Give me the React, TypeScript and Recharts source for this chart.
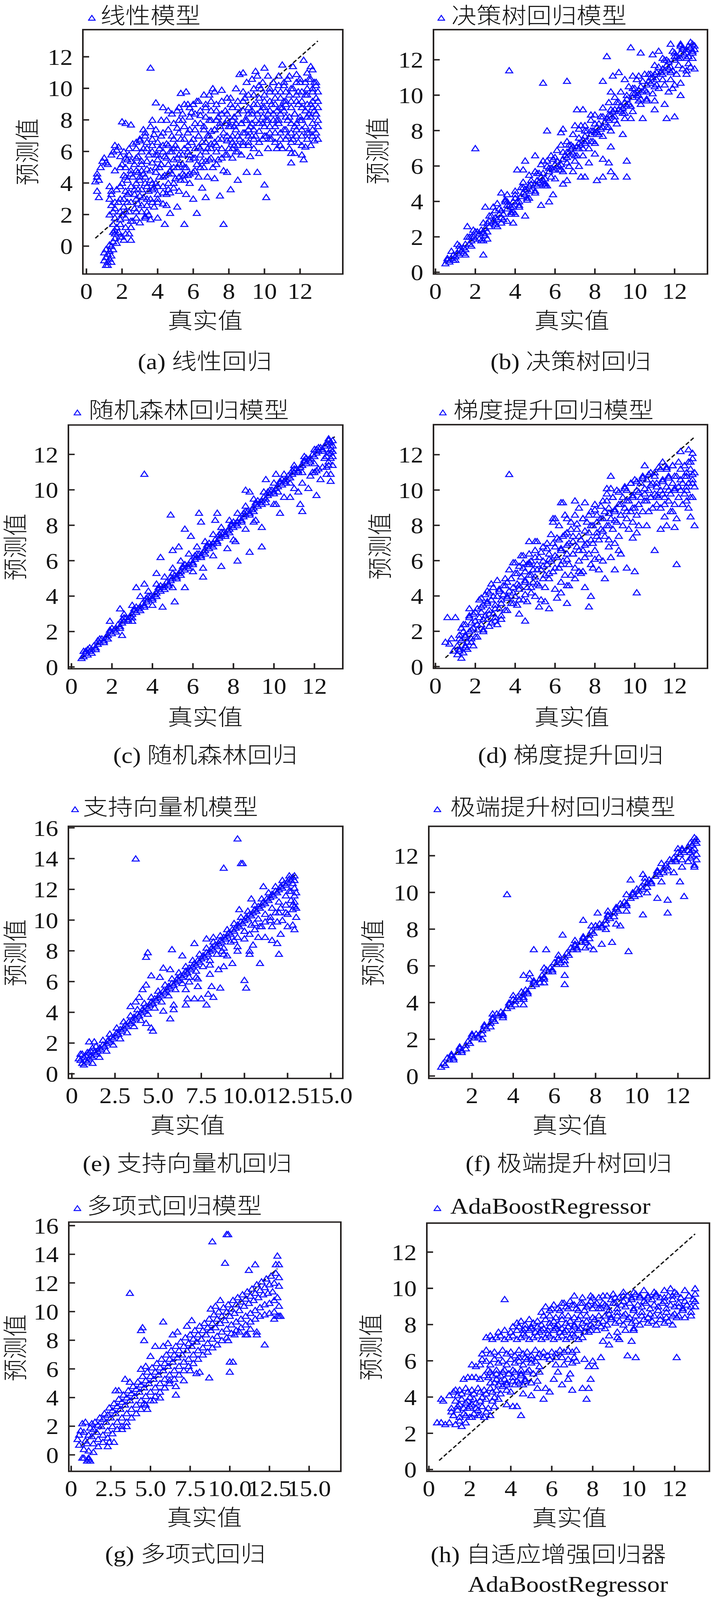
import { ScatterChart, Scatter, XAxis, YAxis, ReferenceLine, ReferenceArea } from "recharts"

// 8 个回归模型：真实值 vs 预测值（数值为十分位整数，x,y 交替）
const linearPts = [
  5,41, 6,44, 6,46, 7,42, 6,35, 7,31, 8,50, 9,54, 10,56, 11,53, 12,52,
  10,-4, 11,-2, 11,-7, 12,-5, 12,-10, 12,-12, 13,-8, 13,-3, 14,-6, 14,0, 15,-2, 10,-9, 13,1, 15,3, 16,5, 16,8, 17,2, 11,-12, 14,-10,
  13,38, 14,35, 13,30, 14,26, 15,22, 16,18, 15,14, 14,33, 16,28, 17,12, 15,60, 16,64, 17,61, 14,58, 18,63, 19,57, 13,20, 15,9,
  18,9, 19,14, 20,6, 21,4, 20,20, 21,25, 19,30, 22,35, 20,40, 21,45, 22,50, 23,55, 21,60, 24,62, 22,18, 23,28, 24,8, 25,4, 25,12, 24,22,
  23,42, 25,38, 25,48, 24,58, 20,79, 22,78, 25,77, 26,16, 27,24, 27,33, 26,44, 27,52, 28,62, 26,65, 19,22, 22,12, 23,33, 20,52,
  28,18, 29,27, 29,36, 30,44, 30,15, 31,22, 31,54, 32,31, 32,62, 33,40, 33,18, 33,70, 34,26, 34,49, 35,58, 35,35, 35,20, 32,74,
  30,67, 29,57, 31,48, 34,66, 28,40, 30,32, 32,46, 34,38, 29,47,
  36,30, 36,42, 37,53, 37,64, 38,25, 38,37, 38,71, 39,47, 39,58, 40,28, 40,33, 41,44, 41,62, 42,52, 42,70, 43,38, 43,27, 44,57,
  44,45, 45,65, 45,33, 36,113, 39,91, 43,88, 46,86, 37,80, 40,18, 36,17, 33,19, 44,14, 45,26, 47,21, 47,34, 37,36, 39,40, 41,50, 43,60, 40,55,
  46,40, 46,52, 47,60, 48,46, 48,70, 49,37, 49,55, 50,64, 50,43, 51,75, 51,50, 52,35, 52,58, 53,68, 53,42, 54,52, 54,80, 55,62,
  55,45, 53,97, 56,98, 51,25, 55,14, 56,33, 52,88, 47,48, 49,62, 51,56, 54,46,
  56,50, 57,60, 57,72, 58,40, 58,55, 59,66, 59,85, 60,47, 60,30, 61,62, 61,78, 62,52, 62,92, 62,21, 63,44, 63,70, 64,58, 64,83,
  65,37, 65,66, 66,50, 66,76, 58,88, 60,90, 57,45, 60,56, 63,63, 65,54,
  67,60, 67,31, 67,88, 68,44, 68,70, 69,55, 69,80, 70,65, 70,92, 71,50, 71,100, 72,74, 72,43, 73,60, 73,86, 74,68, 74,55, 75,32,
  75,78, 76,99, 76,62, 68,62, 70,73, 72,66, 74,82,
  77,72, 77,14, 77,48, 78,58, 78,86, 79,67, 79,47, 80,76, 80,62, 81,36, 81,90, 82,70, 82,56, 83,82, 83,64, 84,74, 84,60, 85,42,
  85,88, 86,68, 86,109, 88,110, 79,80, 81,68, 83,76, 85,64,
  87,78, 87,58, 88,64, 88,86, 89,72, 89,94, 90,47, 90,80, 91,66, 91,88, 92,76, 92,57, 93,84, 93,70, 94,96, 94,62, 95,80, 95,111,
  96,47, 96,90, 97,73, 97,59, 89,80, 91,74, 93,78, 95,70,
  98,86, 98,100, 99,68, 99,78, 100,113, 100,39, 100,92, 101,31, 101,70, 102,84, 102,62, 103,98, 103,76, 104,90, 104,68, 105,80,
  105,104, 99,88, 101,80, 103,86,
  106,72, 106,94, 107,62, 107,86, 108,108, 108,78, 109,68, 109,98, 110,115, 110,88, 110,62, 111,74, 111,102, 112,82, 112,92,
  113,70, 113,106, 114,96, 114,62, 115,53, 115,78, 115,88, 115,59, 107,80, 109,84, 111,92, 113,80,
  116,114, 116,100, 116,68, 117,59, 117,84, 118,109, 118,92, 118,74, 119,66, 119,98, 120,80, 120,104, 121,58, 121,88, 121,70,
  122,118, 122,55, 123,63, 123,96, 124,82, 124,100, 117,76, 119,90, 121,80, 123,86,
  125,106, 125,72, 126,114, 126,90, 127,112, 127,78, 127,98, 128,104, 128,67, 128,86, 129,94, 129,72, 129,102, 130,80, 130,88,
  126,64, 123,76, 125,84, 127,88, 129,84,
]
const linearDense = [
  16,10, 16,24, 17,36, 16,48, 19,6, 19,17, 18,28, 19,38, 19,50, 22,8, 22,22, 21,30, 22,44, 22,56, 25,16, 25,28, 24,34, 25,46,
  25,54, 28,22, 28,30, 27,36, 28,48, 28,56, 28,66, 31,26, 31,36, 30,42, 31,52, 31,60, 30,68, 34,22, 34,30, 33,44, 34,54, 34,62,
  33,72, 37,28, 37,40, 36,48, 37,60, 37,68, 36,76, 40,30, 40,38, 39,50, 40,58, 40,66, 39,74, 43,34, 43,44, 42,52, 43,64, 43,72,
  42,80, 46,36, 46,46, 45,56, 46,64, 46,74, 45,80, 49,40, 49,50, 48,60, 49,68, 49,78, 48,84, 52,44, 52,52, 51,62, 52,72, 52,80,
  51,86, 55,42, 55,50, 54,58, 55,68, 55,76, 54,84, 55,90, 58,46, 58,58, 57,64, 58,74, 58,82, 57,90, 61,48, 61,56, 60,68, 61,74,
  61,84, 60,90, 64,50, 64,62, 63,70, 64,78, 64,86, 63,92, 67,54, 67,66, 66,74, 67,82, 67,90, 66,96, 70,56, 70,62, 69,70, 70,80,
  70,86, 69,96, 73,52, 73,64, 72,74, 73,80, 73,90, 72,98, 76,56, 76,68, 75,76, 76,84, 76,92, 79,58, 79,70, 78,78, 79,84, 79,94,
  82,62, 82,66, 81,76, 82,80, 82,88, 81,94, 85,60, 85,70, 84,78, 85,84, 85,92, 84,100, 88,66, 88,72, 87,78, 88,92, 88,98,
  91,64, 91,70, 90,80, 91,84, 91,96, 90,104, 94,68, 94,74, 93,86, 94,90, 94,100, 93,106, 97,66, 97,78, 96,84, 97,94, 97,102,
  96,108, 100,70, 100,76, 99,82, 100,88, 100,96, 99,104, 103,68, 103,72, 102,80, 103,92, 103,100, 102,108, 106,66, 106,76,
  105,84, 106,90, 106,98, 105,104, 109,64, 109,72, 108,80, 109,88, 109,94, 108,102, 112,68, 112,74, 111,86, 112,90, 112,98,
  111,104, 115,66, 115,72, 114,82, 115,92, 115,100, 114,108, 118,70, 118,78, 117,84, 118,96, 118,104, 121,64, 121,74, 120,82,
  121,92, 121,98, 120,106, 124,68, 124,72, 123,86, 124,90, 124,96, 123,104, 124,110, 127,70, 127,74, 126,82, 127,92, 127,100,
  126,106, 130,68, 130,76, 129,84, 130,92, 130,98, 129,104,
]

const treePts = [
  5,5, 6,7, 7,6, 8,8, 9,10, 10,9, 11,11, 12,13, 13,12, 14,14, 15,16, 17,16, 18,18, 19,20, 20,19, 22,22, 23,24, 24,23, 25,25,
  26,28, 27,26, 29,29, 30,31, 31,30, 32,33, 33,35, 34,33, 36,36, 37,38, 38,37, 39,40, 40,42, 41,40, 43,43, 44,45, 45,44, 46,47,
  47,49, 48,46, 50,50, 51,52, 52,51, 53,54, 54,56, 55,53, 57,57, 58,59, 59,58, 60,61, 61,63, 62,60, 64,64, 65,66, 66,65, 67,68,
  68,70, 69,67, 71,71, 72,73, 73,72, 74,75, 75,77, 76,74, 78,78, 79,80, 80,79, 81,82, 82,84, 83,81, 85,85, 86,87, 87,86, 88,89,
  89,91, 90,88, 92,92, 93,94, 94,93, 95,96, 96,98, 97,95, 99,99, 100,101, 101,100, 102,103, 103,105, 104,102, 106,106, 107,108,
  108,107, 109,110, 110,112, 111,109, 113,113, 114,115, 115,114, 116,117, 117,119, 118,116, 120,120, 121,122, 122,121, 123,124,
  124,126, 125,123, 126,126, 127,128, 128,127, 129,129, 130,128, 129,125,
  8,12, 12,15, 16,20, 20,23, 24,28, 28,32, 32,36, 36,40, 40,44, 44,48, 48,52, 52,56, 56,60, 60,65, 64,68, 68,72, 72,76, 76,80,
  80,84, 84,88, 88,92, 92,96, 96,100, 100,104, 104,108, 108,112, 112,116, 116,120, 120,124, 124,127,
  10,7, 14,11, 18,15, 22,19, 26,23, 30,27, 34,30, 38,34, 42,38, 46,42, 50,46, 54,50, 58,54, 62,58, 66,62, 70,66, 74,70, 78,74,
  82,78, 86,82, 90,86, 94,90, 98,94, 102,97, 106,102, 110,105, 114,109, 118,113, 122,117, 126,121, 129,124,
  30,35, 35,41, 40,46, 44,51, 47,55, 50,57, 53,61, 56,63, 58,66, 61,69, 63,72, 66,74, 69,78, 72,81, 75,83, 78,86, 80,89, 84,93,
  87,96, 90,99, 93,102, 97,105, 101,109, 105,112, 110,117, 114,121, 119,125, 123,128,
  25,21, 33,28, 38,33, 42,37, 46,41, 50,45, 55,49, 60,53, 64,57, 67,60, 70,63, 74,66, 77,70, 80,73, 84,77, 88,80, 91,84, 95,87,
  99,91, 103,95, 106,98, 109,101, 112,104, 115,106, 118,109, 121,112, 124,115, 127,118, 129,121, 126,112, 128,116, 120,106, 117,102,
  37,114, 20,70, 54,107, 66,108, 86,122, 98,127, 103,124, 109,123, 112,125, 118,129, 123,129, 71,92, 74,92, 56,80, 64,81, 63,79,
  70,83, 73,83, 78,89, 84,108, 88,102, 89,111, 92,113, 95,109, 99,111, 102,111, 50,66, 54,63, 45,63, 41,58, 44,58, 33,45, 36,44,
  25,37, 29,37, 31,39, 16,26, 17,20, 24,10, 24,18, 26,19, 36,29, 39,28, 40,33, 45,32, 53,38, 57,40, 59,44, 56,49, 64,50, 66,52,
  69,57, 73,54, 75,54, 81,52, 84,54, 88,57, 90,54, 96,54, 96,63, 94,78, 72,60, 77,62, 84,64, 87,62, 80,67, 88,71, 98,87, 104,87,
  110,92, 115,95, 116,87, 120,88, 119,104, 123,100, 123,107, 126,114, 130,115, 106,97, 110,97,
]
const treeDense = [
  6,8, 9,7, 12,10, 15,13, 18,20, 21,23, 24,22, 27,29, 30,28, 33,31, 36,38, 39,37, 42,40, 45,47, 48,50, 51,49, 54,52, 57,59,
  60,58, 63,61, 66,68, 69,71, 72,70, 75,73, 78,80, 81,79, 84,82, 87,89, 90,92, 93,91, 96,94, 99,101, 102,100, 105,103, 108,110,
  111,113, 114,112, 117,115, 120,122, 123,121, 126,124, 128,130, 130,126,
  11,16, 19,24, 27,32, 35,40, 43,48, 51,56, 59,64, 67,72, 75,80, 83,88, 91,96, 99,104, 107,112, 115,120, 123,128,
  15,10, 23,18, 31,26, 39,34, 47,42, 55,50, 63,58, 71,66, 79,74, 87,82, 95,90, 103,98, 111,106, 119,114, 127,122,
]

const forestPts = [
  5,5, 6,6, 7,8, 8,7, 9,9, 10,10, 11,12, 12,11, 13,13, 14,14, 15,16, 16,15, 17,17, 18,18, 19,20, 20,19, 21,21, 22,22, 23,24,
  24,23, 25,25, 26,26, 27,28, 28,27, 29,29, 30,30, 31,32, 32,31, 33,33, 34,34, 35,36, 36,35, 37,37, 38,38, 39,40, 40,39, 41,41,
  42,42, 43,44, 44,43, 45,45, 46,46, 47,48, 48,47, 49,49, 50,50, 51,52, 52,51, 53,53, 54,54, 55,56, 56,55, 57,57, 58,58, 59,60,
  60,59, 61,61, 62,62, 63,64, 64,63, 65,65, 66,66, 67,68, 68,67, 69,69, 70,70, 71,72, 72,71, 73,73, 74,74, 75,76, 76,75, 77,77,
  78,78, 79,80, 80,79, 81,81, 82,82, 83,84, 84,83, 85,85, 86,86, 87,88, 88,87, 89,89, 90,90, 91,92, 92,91, 93,93, 94,94, 95,96,
  96,95, 97,97, 98,98, 99,100, 100,99, 101,101, 102,102, 103,104, 104,103, 105,105, 106,106, 107,108, 108,107, 109,109, 110,110,
  111,112, 112,111, 113,113, 114,114, 115,116, 116,115, 117,117, 118,118, 119,120, 120,119, 121,121, 122,122, 123,124, 124,123,
  125,125, 126,126, 127,128, 128,127, 129,128, 129,125, 128,123, 127,121,
  8,10, 14,16, 20,22, 26,28, 32,34, 38,40, 44,46, 50,53, 56,58, 62,64, 68,70, 74,76, 80,82, 86,88, 92,94, 98,100, 104,106,
  110,112, 116,118, 122,124, 12,10, 18,16, 24,22, 30,28, 36,34, 42,40, 48,46, 54,52, 60,58, 66,64, 72,70, 78,76, 84,82, 90,88,
  96,93, 102,99, 108,104, 114,110, 120,115, 126,119, 128,118,
  26,30, 30,35, 34,40, 38,43, 42,47, 46,51, 50,56, 54,60, 58,64, 62,68, 66,71, 70,75, 74,79, 78,83, 82,87, 86,91, 90,95, 95,99,
  100,104, 105,109, 110,114, 115,119, 120,123,
  30,26, 40,35, 50,45, 60,54, 70,63, 80,72, 90,82, 100,92, 105,96, 110,101, 114,104, 118,108, 121,111, 124,113, 127,116, 129,119,
  126,109, 128,105, 129,114, 123,106, 112,99,
  36,109, 49,86, 63,87, 64,82, 71,83, 72,87, 56,78, 59,74, 53,68, 44,62, 50,66, 32,45, 36,47, 42,53, 24,33, 19,26, 25,18, 45,34,
  51,37, 56,45, 65,51, 65,56, 74,57, 82,60, 88,65, 94,68, 94,79, 77,67, 81,71, 86,78, 91,83, 96,106, 86,100, 88,99, 101,92,
  103,87, 108,96, 113,92, 114,88, 117,101, 121,97, 120,110, 128,109, 126,113, 128,121, 101,109, 6,9, 9,11,
]
const forestDense = [
  7,9, 10,8, 13,15, 16,14, 19,21, 22,20, 25,27, 28,26, 31,33, 34,32, 37,39, 40,38, 43,45, 46,44, 49,51, 52,50, 55,57, 58,56,
  61,63, 64,62, 67,69, 70,68, 73,75, 76,74, 79,81, 82,80, 85,87, 88,86, 91,93, 94,92, 97,99, 100,98, 103,105, 106,104, 109,111,
  112,110, 115,117, 118,116, 121,123, 124,122, 127,129, 128,125, 129,122, 125,118, 127,114, 122,112, 119,110,
]

const gboostPts = [
  5,14, 8,16, 6,28, 10,28, 9,9, 7,13,
  11,7, 12,10, 13,15, 14,20, 11,12, 14,8, 15,24, 12,18, 13,5, 15,12, 16,10, 15,17,
  16,14, 17,20, 18,25, 17,29, 18,16, 19,22, 19,30, 20,17, 20,26, 21,33, 21,21, 22,28, 22,38, 23,24, 23,31, 24,20, 24,35, 25,29,
  25,41, 17,33, 23,39, 19,12,
  26,27, 26,36, 27,32, 27,42, 28,25, 28,38, 29,30, 29,45, 30,35, 30,28, 31,40, 31,49, 32,33, 32,44, 33,38, 33,27, 34,46, 34,41,
  35,32, 35,50, 28,47, 31,24,
  36,39, 36,48, 37,43, 37,55, 38,36, 38,50, 39,45, 39,59, 40,40, 40,53, 41,47, 41,35, 42,57, 42,44, 43,51, 43,63, 44,38, 44,59,
  45,48, 45,54, 40,59, 42,30, 45,26, 46,37,
  46,45, 46,58, 47,52, 47,64, 48,42, 48,60, 49,55, 49,48, 50,66, 50,51, 51,58, 51,71, 52,46, 52,62, 53,55, 53,38, 54,68, 54,60,
  55,52, 55,45, 47,71, 52,34, 50,40, 55,37,
  56,58, 56,70, 57,50, 57,64, 58,75, 58,60, 59,54, 59,82, 60,68, 60,44, 61,73, 61,62, 62,56, 62,80, 63,67, 63,48, 64,74, 64,60,
  65,52, 65,86, 57,33, 59,84, 61,39, 63,42, 66,46,
  66,64, 66,76, 67,58, 67,70, 68,82, 68,52, 69,74, 69,64, 70,86, 70,56, 71,78, 71,68, 72,60, 72,90, 73,72, 73,53, 74,84, 74,66,
  75,62, 75,93, 66,36, 67,46, 70,50, 72,54, 74,54,
  76,70, 76,82, 77,64, 77,76, 78,88, 78,58, 79,80, 79,70, 80,92, 80,66, 81,76, 81,86, 82,62, 82,72, 83,84, 83,78, 84,60, 84,94,
  85,74, 85,88, 75,45, 78,40, 77,34, 79,56, 82,55, 85,50, 80,61,
  86,80, 86,98, 87,72, 87,90, 88,84, 88,108, 89,78, 89,96, 90,88, 90,70, 91,100, 91,82, 92,74, 92,92, 93,86, 93,64, 94,96, 94,80,
  95,90, 95,102, 87,68, 88,62, 90,55, 92,66, 96,56,
  96,84, 96,100, 97,94, 97,78, 98,104, 98,88, 99,96, 99,82, 100,106, 100,90, 101,100, 101,86, 102,92, 102,80, 103,104, 103,96,
  104,88, 104,108, 105,98, 105,114, 101,76, 100,54, 101,42, 99,73,
  106,94, 106,106, 107,100, 107,88, 108,110, 108,96, 109,104, 109,90, 110,98, 110,108, 111,92, 111,102, 112,96, 112,113, 113,100,
  113,90, 114,106, 114,116, 115,96, 115,85, 106,80, 110,66, 113,78, 115,92,
  116,102, 116,112, 117,94, 117,108, 118,98, 118,88, 119,104, 119,114, 120,100, 120,92, 121,108, 121,84, 122,102, 122,96, 123,112,
  123,122, 124,104, 124,92, 125,98, 125,108, 116,80, 120,79, 121,58, 119,88,
  126,110, 126,100, 127,116, 127,104, 128,96, 128,112, 129,106, 129,118, 130,102, 130,110, 127,123, 129,121, 128,85, 130,80,
  129,96, 127,90, 126,94,
  37,109, 63,93, 64,93, 70,94, 60,84, 66,84, 50,71, 44,63, 47,59, 26,43, 86,101, 88,101,
]
const gboostDense = [
  12,9, 12,16, 13,22, 15,11, 15,18, 14,24, 18,14, 18,21, 17,28, 21,17, 21,24, 20,31, 24,21, 24,27, 23,34, 27,23, 27,30, 26,37,
  30,26, 30,33, 29,40, 33,29, 33,36, 32,43, 36,32, 36,40, 35,46, 39,36, 39,42, 38,50, 42,38, 42,46, 41,53, 45,41, 45,49, 44,56,
  48,45, 48,52, 47,58, 51,47, 51,55, 50,62, 54,50, 54,57, 53,65, 57,53, 57,61, 56,67, 60,56, 60,63, 59,70, 63,58, 63,66, 62,72,
  66,61, 66,69, 65,75, 69,64, 69,71, 68,78, 72,66, 72,74, 71,81, 75,69, 75,77, 74,84, 78,72, 78,80, 77,86, 81,74, 81,82, 80,89,
  84,77, 84,84, 83,91, 87,80, 87,87, 86,94, 90,83, 90,89, 89,96, 93,86, 93,92, 92,99, 96,88, 96,94, 95,101, 99,90, 99,97, 98,104,
  102,92, 102,99, 101,105, 105,94, 105,101, 104,107, 108,96, 108,103, 107,109, 111,97, 111,104, 110,110, 114,98, 114,105,
  113,112, 117,100, 117,107, 116,113, 120,101, 120,108, 119,114, 123,100, 123,106, 122,116, 126,102, 126,108, 125,114, 129,104,
  129,109, 128,116,
]

const svrPts = [
  6,7, 7,6, 8,9, 9,8, 10,10, 11,12, 12,11, 13,14, 14,13, 15,15, 16,17, 17,16, 18,19, 19,18, 20,20, 21,22, 22,21, 23,24, 24,23,
  25,25, 26,27, 27,26, 28,29, 29,28, 30,30, 31,32, 32,31, 33,34, 34,33, 35,35, 36,37, 37,36, 38,39, 39,38, 40,40, 41,42, 42,41,
  43,44, 44,43, 45,45, 46,47, 47,46, 48,49, 49,48, 50,50, 51,52, 52,51, 53,54, 54,53, 55,55, 56,57, 57,56, 58,59, 59,58, 60,60,
  61,62, 62,61, 63,64, 64,63, 65,65, 66,67, 67,66, 68,69, 69,68, 70,70, 71,72, 72,71, 73,74, 74,73, 75,75, 76,77, 77,76, 78,79,
  79,78, 80,80, 81,82, 82,81, 83,84, 84,83, 85,85, 86,87, 87,86, 88,89, 89,88, 90,90, 91,92, 92,91, 93,94, 94,93, 95,95, 96,97,
  97,96, 98,99, 99,98, 100,100, 101,102, 102,101, 103,104, 104,103, 105,105, 106,107, 107,106, 108,109, 109,108, 110,110, 111,112,
  112,111, 113,114, 114,113, 115,115, 116,117, 117,116, 118,119, 119,118, 120,120, 121,122, 122,121, 123,124, 124,123, 125,125,
  126,127, 127,126, 128,128, 129,129, 129,126, 128,124,
  10,14, 14,18, 18,22, 22,26, 26,30, 30,34, 34,38, 38,42, 42,46, 46,50, 50,54, 54,58, 58,62, 62,66, 66,70, 70,74, 74,78, 78,82,
  82,86, 86,90, 90,94, 94,98, 98,102, 102,106, 106,110, 110,114, 114,118, 118,122, 122,126, 126,129,
  12,7, 16,11, 20,15, 24,19, 28,23, 32,27, 36,31, 40,35, 44,39, 48,43, 52,47, 56,51, 60,55, 64,59, 68,63, 72,67, 76,70, 80,74,
  84,78, 88,82, 92,86, 96,89, 100,93, 104,97, 108,101, 112,104, 116,108, 120,112, 124,116, 127,119, 129,121,
  100,88, 103,91, 106,94, 109,96, 112,99, 115,102, 118,105, 121,108, 124,110, 127,113, 129,116, 125,104, 128,107, 122,100,
  119,99, 116,96, 126,119, 128,110, 129,112, 130,118, 130,108,
  5,9, 6,13, 10,21, 13,21, 5,13, 4,10, 7,11, 9,14, 12,17, 11,15, 8,12,
  37,140, 96,153, 98,137, 99,137, 88,134, 111,122, 104,114, 97,107, 58,81, 44,79, 43,76, 46,64, 51,63, 53,69, 57,68, 43,58,
  41,55, 39,50, 37,47, 34,44, 64,77, 71,85, 78,88, 82,89,
  120,78, 109,72, 100,61, 101,56, 130,102, 129,109, 128,97, 129,94, 125,96, 121,91, 119,85, 116,87, 112,89, 108,89, 105,84,
  103,78, 103,80, 96,80, 96,83, 94,87, 100,93, 106,98, 110,96, 115,100, 120,105, 124,105, 93,72, 88,70, 85,68, 90,77, 87,80,
  86,56, 82,50, 79,52, 78,45, 75,49, 71,49, 81,57, 80,65, 73,57, 73,62, 72,63, 67,49, 66,45, 59,45, 59,42, 57,36, 53,41, 47,28,
  46,30, 43,33, 66,55, 68,60, 80,71, 88,78,
]

const xgbPts = [
  5,5, 6,7, 7,6, 9,9, 10,11, 11,10, 13,13, 14,15, 15,14, 17,17, 18,19, 19,18, 21,21, 22,23, 23,22, 25,25, 26,27, 27,26, 29,29,
  30,31, 31,30, 33,33, 34,35, 35,34, 37,37, 38,39, 39,38, 41,41, 42,43, 43,42, 45,45, 46,47, 47,46, 49,49, 50,51, 51,50, 53,53,
  54,55, 55,54, 57,57, 58,59, 59,58, 61,61, 62,63, 63,62, 65,65, 66,67, 67,66, 69,69, 70,71, 71,70, 73,73, 74,75, 75,74, 77,77,
  78,79, 79,78, 81,81, 82,83, 83,82, 85,85, 86,87, 87,86, 89,89, 90,91, 91,90, 93,93, 94,95, 95,94, 97,97, 98,99, 99,98, 101,101,
  102,103, 103,102, 105,105, 106,107, 107,106, 109,109, 110,111, 111,110, 113,113, 114,115, 115,114, 117,117, 118,119, 119,118,
  121,121, 122,123, 123,122, 125,125, 126,127, 127,126, 128,128, 129,129, 129,127,
  10,12, 20,22, 30,32, 40,42, 50,52, 60,62, 70,72, 80,82, 90,92, 100,102, 110,112, 120,122, 15,13, 25,23, 35,33, 45,43, 55,53,
  65,63, 75,73, 85,83, 95,93, 105,103, 115,112, 122,118, 127,123,
  30,34, 40,44, 48,53, 55,59, 62,66, 70,74, 78,82, 86,90, 95,99, 104,108, 112,116, 120,124, 35,32, 45,42, 55,51, 65,61, 75,70,
  85,80, 95,90, 105,100, 112,106, 118,111, 122,114, 125,117, 127,120, 128,115, 126,122,
  37,99, 50,69, 56,69, 64,77, 45,55, 48,56, 65,50, 65,55, 45,39, 25,20, 20,23, 74,85, 81,89, 88,73, 96,68, 83,72, 79,69, 77,71,
  97,107, 103,110, 110,97, 115,96, 115,89, 103,88, 123,98, 121,106, 128,114, 129,121, 90,83, 92,82,
]
const xgbDense = [
  8,10, 11,9, 14,16, 17,15, 20,22, 23,21, 26,28, 29,27, 32,34, 35,33, 38,40, 41,39, 44,46, 47,45, 50,52, 53,51, 56,58, 59,57,
  62,64, 65,63, 68,70, 71,69, 74,76, 77,75, 80,82, 83,81, 86,88, 89,87, 92,94, 95,93, 98,100, 101,99, 104,106, 107,105, 110,112,
  113,111, 116,118, 119,117, 122,124, 125,123, 128,130, 128,124, 126,119, 129,118,
]

const polyPts = [
  8,-2, 8,4, 9,10, 8,16, 7,22, 11,-3, 11,3, 10,8, 11,14, 12,19, 14,2, 14,8, 13,13, 14,18, 15,23, 17,6, 17,11, 16,16, 17,21,
  18,26, 20,9, 20,14, 19,20, 20,25, 21,29, 23,12, 23,17, 22,23, 23,28, 24,33, 26,15, 26,20, 25,26, 26,31, 27,36, 29,18, 29,23,
  28,29, 29,34, 30,39, 32,20, 32,26, 31,32, 32,37, 33,42, 35,23, 35,29, 34,35, 35,40, 36,45, 38,26, 38,32, 37,38, 38,43, 39,48,
  41,29, 41,35, 40,41, 41,46, 42,51, 44,32, 44,38, 43,44, 44,49, 45,55, 47,35, 47,41, 46,47, 47,52, 48,58, 50,38, 50,44, 49,50,
  50,55, 51,61, 53,41, 53,47, 52,53, 53,58, 54,64, 56,44, 56,50, 55,56, 56,61, 57,67, 59,47, 59,53, 58,59, 59,64, 60,70, 62,50,
  62,56, 61,62, 62,67, 63,73, 65,53, 65,59, 64,65, 65,70, 66,76, 68,56, 68,62, 67,68, 68,73, 69,79, 71,59, 71,65, 70,70, 71,76,
  72,82, 74,62, 74,67, 73,73, 74,78, 75,84, 77,64, 77,70, 76,76, 77,81, 78,87, 80,67, 80,73, 79,79, 80,84, 81,90, 83,70, 83,75,
  82,81, 83,87, 84,92, 86,72, 86,78, 85,84, 86,89, 87,95, 89,75, 89,81, 88,87, 89,92, 90,98, 92,77, 92,83, 91,89, 92,95, 93,100,
  95,80, 95,86, 94,92, 95,97, 96,103, 98,82, 98,88, 97,94, 98,100, 99,105, 101,85, 101,91, 100,97, 101,102, 102,108, 104,87,
  104,93, 103,99, 104,105, 105,110, 107,89, 107,95, 106,101, 107,107, 108,112, 110,91, 110,97, 109,104, 110,109, 111,114, 113,93,
  113,99, 112,106, 113,111, 114,116, 116,95, 116,101, 115,108, 116,113, 117,119, 119,97, 119,103, 118,110, 119,115, 120,121,
  122,98, 122,105, 121,112, 122,117, 123,123, 125,99, 125,106, 124,113, 125,119, 126,125, 128,100, 128,108, 127,114, 128,120,
  129,127, 131,97, 131,104, 130,110, 131,118, 131,124,
  4,11, 5,7, 6,17, 9,23, 10,-4, 11,-2, 12,-4, 7,-2, 5,14, 13,22, 23,6, 24,9, 27,9, 28,45, 30,45, 34,53, 37,51, 32,18, 35,20,
  44,60, 47,62, 50,69, 53,76, 46,36, 48,32, 52,38, 56,40, 58,76, 61,78, 64,84, 67,86, 59,47, 62,52, 66,42, 66,48, 71,52, 73,90,
  76,94, 79,57, 75,59, 81,58, 87,54, 88,102, 91,104, 94,108, 99,80, 100,65, 100,58, 103,84, 106,86, 110,84, 113,88, 117,86,
  122,77, 130,97, 128,95,
  37,113, 89,149, 98,154, 99,154, 97,134, 112,129, 116,133, 130,139, 129,133, 131,133, 58,93, 45,89, 44,87, 46,80, 102,65,
  117,84, 111,84, 132,97,
]

const adaPts = [
  4,26, 6,26, 8,25, 10,26, 11,32, 13,25, 15,27, 16,24, 18,26, 12,30, 14,33, 17,31, 19,34, 20,29, 22,31, 24,33, 25,30, 21,36,
  23,37, 26,35, 28,32, 15,36, 18,37,
  6,39, 7,38, 10,41, 12,43, 13,44, 15,44, 16,42, 18,45, 19,43, 21,44, 22,42, 24,45, 25,43, 27,44, 28,42, 30,45, 31,43, 33,44,
  35,42, 36,46, 38,44, 40,43, 14,41, 20,40, 26,40, 32,40,
  17,50, 19,51, 21,51, 23,51, 25,50, 27,52, 29,51, 31,52, 33,50, 35,52, 37,50, 39,53, 41,51, 43,49, 45,52, 47,50, 30,48, 34,47,
  38,47, 42,47, 46,47,
  21,58, 23,57, 25,58, 26,61, 28,60, 30,58, 32,61, 34,59, 36,60, 38,58, 40,61, 42,59, 44,60, 46,58, 48,61, 50,59, 52,60, 54,57,
  29,55, 33,55, 37,55, 41,55, 45,55, 49,55,
  26,64, 28,66, 30,64, 32,65, 34,63, 36,66, 38,64, 40,65, 42,63, 44,66, 46,64, 48,65, 50,63, 52,66, 54,64, 56,65, 58,63, 60,65,
  62,64, 64,66, 66,65, 68,66, 70,65, 72,66,
  28,73, 30,74, 31,72, 33,73, 35,74, 37,72, 39,73, 41,74, 43,72, 45,73, 47,74, 49,72, 51,73, 53,74, 55,72, 57,73, 59,74, 61,72,
  63,73, 65,74, 67,72, 69,73, 71,74, 73,72, 75,73,
  43,81, 45,82, 47,80, 49,83, 51,81, 53,82, 55,80, 57,83, 59,81, 61,82, 63,80, 65,83, 67,81, 69,82, 71,80, 73,83, 75,81, 77,82,
  79,80, 81,83, 83,81, 85,82, 87,80, 89,83, 91,81, 93,82, 95,80, 97,83, 99,81, 101,82, 103,80, 105,83, 107,81, 109,82, 111,80,
  113,83, 115,81, 117,82, 119,80, 121,84,
  46,77, 50,78, 54,76, 58,77, 62,78, 66,76, 70,77, 74,78, 78,76, 82,77, 86,78, 88,74, 92,76, 96,77, 100,78, 93,72,
  55,87, 57,90, 59,88, 61,91, 63,89, 65,92, 67,90, 69,93, 71,91, 73,88, 75,92, 77,90, 79,93, 81,91, 83,89, 85,92, 87,90, 89,94,
  91,92, 93,95, 95,93, 97,96, 99,94, 101,97, 103,95, 105,93, 107,96, 109,94, 111,97, 113,95, 115,93, 117,96, 119,94, 121,97,
  123,95, 125,93, 127,96, 129,94, 130,97,
  88,86, 92,87, 96,86, 100,88, 104,87, 108,86, 112,88, 116,87, 120,86, 124,88, 128,87, 130,90, 126,91, 122,90,
  80,95, 85,96, 90,97, 95,98, 100,98, 105,99, 110,98, 115,99, 120,98, 125,99, 130,100, 118,100,
  37,94, 97,63, 101,62, 121,62, 45,30, 77,39, 56,39, 50,41, 46,42, 53,45, 57,45, 59,43, 61,50, 68,50, 79,50, 65,47, 75,45,
  78,45, 70,44, 41,35, 38,36, 43,35, 62,58, 66,58, 70,59, 78,57, 81,57, 63,54, 69,53, 72,60, 76,61, 80,60, 84,62, 88,69, 92,73,
  85,71, 100,77, 99,71,
]
const adaDense = [
  34,76, 37,77, 40,76, 43,77, 46,75, 49,77, 52,76, 55,77, 58,75, 61,77, 64,76, 67,77, 70,75, 73,77, 76,76, 79,77,
  41,79, 44,79, 47,78, 50,79, 53,79, 56,78, 59,79, 62,79, 65,78, 68,79, 71,79, 74,78, 77,79, 80,79, 84,79,
  56,85, 59,85, 62,84, 65,85, 68,85, 71,84, 74,85, 77,85, 80,84, 83,85, 86,85, 89,84, 92,85, 95,85, 98,84, 101,85, 104,85,
  107,84, 110,85, 113,85, 116,84, 119,85, 122,85, 125,84, 128,85,
  60,89, 64,88, 68,89, 72,89, 76,88, 80,89, 84,89, 88,88, 92,89, 96,90, 100,89, 104,90, 108,89, 112,90, 116,89, 120,90,
  124,89, 128,90, 66,92, 70,91, 74,92, 78,91, 82,92, 86,91, 90,92, 94,91, 98,92, 102,91, 106,92, 110,91, 114,92, 118,91,
  122,92, 126,91, 130,93, 71,96, 75,95, 79,96, 83,95, 87,96, 91,95, 95,96, 99,95, 103,96, 107,95, 111,96, 115,95, 119,96,
  123,95, 127,96,
  12,30, 15,29, 18,30, 21,29, 24,30, 27,29, 30,30, 11,34, 14,35, 17,34, 20,35, 23,34, 26,35, 29,34, 32,35,
  13,38, 16,39, 19,38, 22,39, 25,38, 28,39, 31,38, 34,39, 32,48, 35,49, 38,48, 41,49, 44,48, 47,49, 50,48, 53,49,
  30,54, 33,53, 36,54, 39,53, 42,54, 45,53, 48,54, 51,53, 54,54, 44,62, 47,62, 50,61, 53,62, 56,62, 59,61, 62,62, 65,62,
  68,61, 71,62,
]

const legendNames = ["线性模型", "决策树回归模型", "随机森林回归模型", "梯度提升回归模型", "支持向量机模型", "极端提升树回归模型", "多项式回归模型", "AdaBoostRegressor"]
const captions = ["(a) 线性回归", "(b) 决策树回归", "(c) 随机森林回归", "(d) 梯度提升回归", "(e) 支持向量机回归", "(f) 极端提升树回归", "(g) 多项式回归", "(h) 自适应增强回归器"]
const captionExtra = "AdaBoostRegressor"
const xTitle = "真实值"
const yTitle = "预测值"

const ticks12 = [0, 2, 4, 6, 8, 10, 12]
const ticks16 = [0, 2, 4, 6, 8, 10, 12, 14, 16]
const ticksFrom2 = [2, 4, 6, 8, 10, 12]
const ticks15 = [0, 2.5, 5, 7.5, 10, 12.5, 15]

const FONT = '"Liberation Serif", "Times New Roman", "Noto Sans CJK SC", serif'
const BLUE = "#0a0aff"
const INK = "#231f1e"
const AXW = 140
const AXH = 130
const PAD_T = 60
const PAD_R = 90
const PAGE_W = 1819
const PAGE_H = 4589

const toPts = (a: number[]) => {
  const out: { x: number; y: number }[] = []
  for (let i = 0; i < a.length; i += 2) out.push({ x: a[i] / 10, y: a[i + 1] / 10 })
  return out
}

const fmtHalf = (v: number) => (v === 0 ? "0" : v.toFixed(1))

// box = [left, top, right, bottom] in page pixels
const panels = [
  { pts: [...linearPts, ...linearDense], box: [212, 85, 877, 786], xd: [-0.2, 14.4], yd: [-1.77, 13.72], xt: ticks12, yt: ticks12, diag: 0.5,
    leg: [235, 257, 46], yl: [72, 436], xl: [525, 921], cp: [524, 1038] },
  { pts: [...treePts, ...treeDense], box: [1109, 85, 1810, 786], xd: [-0.1, 13.65], yd: [-0.1, 13.7], xt: ticks12, yt: ticks12, diag: 0.5,
    leg: [1129, 1155, 46], yl: [968, 433], xl: [1463, 921], cp: [1460, 1038] },
  { pts: [...forestPts, ...forestDense], box: [175, 1219, 877, 1918], xd: [-0.15, 13.4], yd: [-0.1, 13.66], xt: ticks12, yt: ticks12, diag: 0.5,
    leg: [198, 227, 1178], yl: [41, 1569], xl: [525, 2058], cp: [525, 2167] },
  { pts: [...gboostPts, ...gboostDense], box: [1109, 1218, 1810, 1917], xd: [-0.1, 13.65], yd: [-0.1, 13.7], xt: ticks12, yt: ticks12, diag: 0.5,
    leg: [1133, 1160, 1178], yl: [974, 1567], xl: [1463, 2058], cp: [1460, 2167] },
  { pts: svrPts, box: [175, 2370, 877, 3093], xd: [-0.2, 15.7], yd: [-0.3, 16.1], xt: ticks15, yt: ticks16, diag: 0.5, half: true,
    leg: [192, 212, 2316], yl: [41, 2733], xl: [480, 3229], cp: [479, 3338] },
  { pts: [...xgbPts, ...xgbDense], box: [1097, 2370, 1815, 3093], xd: [-0.1, 13.53], yd: [-0.13, 13.6], xt: ticksFrom2, yt: ticks12, diag: 0.5,
    leg: [1119, 1152, 2316], yl: [956, 2733], xl: [1458, 3229], cp: [1455, 3338] },
  { pts: polyPts, box: [176, 3505, 872, 4220], xd: [-0.15, 17.0], yd: [-1.15, 16.25], xt: ticks15, yt: ticks16, diag: 0.6, half: true,
    leg: [198, 222, 3460], yl: [41, 3866], xl: [523, 4354], cp: [474, 4458] },
  { pts: [...adaPts, ...adaDense], box: [1092, 3508, 1815, 4220], xd: [-0.1, 13.7], yd: [-0.1, 13.6], xt: ticks12, yt: ticks12, diag: 0.5,
    leg: [1119, 1152, 3460], yl: [951, 3864], xl: [1457, 4355], cp: [1403, 4459] },
]

const renderTri = (p: any) => {
  const { cx, cy } = p
  if (cx == null || cy == null) return <g />
  return (
    <polygon
      points={`${cx},${cy - 8} ${cx - 9},${cy + 7} ${cx + 9},${cy + 7}`}
      fill="none"
      stroke={BLUE}
      strokeWidth={2.8}
    />
  )
}

const textStyle = (size = 64): React.CSSProperties => ({
  position: "absolute",
  fontFamily: FONT,
  fontSize: size,
  fontWeight: 300,
  lineHeight: 1,
  whiteSpace: "nowrap",
  color: "#111",
})

function Centered({ x, y, rotate, children }: { x: number; y: number; rotate?: boolean; children: React.ReactNode }) {
  return (
    <div style={{ ...textStyle(), left: x, top: y, transform: `translate(-50%, -50%)${rotate ? " rotate(-90deg)" : ""}` }}>
      {children}
    </div>
  )
}

function Panel({ idx }: { idx: number }) {
  const p = panels[idx]
  const [L, T, R, B] = p.box
  const data = toPts(p.pts)
  const tickFont = { fontSize: 64, fontFamily: FONT, fill: "#111" }
  return (
    <>
      <div style={{ position: "absolute", left: L - AXW, top: T - PAD_T }}>
        <ScatterChart
          width={R - L + AXW + PAD_R}
          height={B - T + PAD_T + AXH}
          margin={{ top: PAD_T, right: PAD_R, bottom: 0, left: 0 }}
        >
          <XAxis
            type="number"
            dataKey="x"
            domain={p.xd}
            allowDataOverflow
            ticks={p.xt}
            interval={0}
            height={AXH}
            axisLine={false}
            tickSize={-16}
            tickMargin={42}
            tickLine={{ stroke: INK, strokeWidth: 4 }}
            tick={tickFont}
            tickFormatter={p.half ? fmtHalf : undefined}
          />
          <YAxis
            type="number"
            dataKey="y"
            domain={p.yd}
            allowDataOverflow
            ticks={p.yt}
            interval={0}
            width={AXW}
            axisLine={false}
            tickSize={-16}
            tickMargin={42}
            tickLine={{ stroke: INK, strokeWidth: 4 }}
            tick={tickFont}
          />
          <Scatter data={data} shape={renderTri} isAnimationActive={false} />
          <ReferenceLine
            segment={[{ x: p.diag, y: p.diag }, { x: 13, y: 13 }]}
            stroke="#111"
            strokeWidth={3.5}
            strokeDasharray="11 6"
            ifOverflow="visible"
          />
          <ReferenceArea
            x1={p.xd[0]}
            x2={p.xd[1]}
            y1={p.yd[0]}
            y2={p.yd[1]}
            fill="none"
            stroke={INK}
            strokeWidth={4}
            ifOverflow="visible"
          />
        </ScatterChart>
      </div>

      {/* legend */}
      <svg style={{ position: "absolute", left: p.leg[0] - 10, top: p.leg[2] - 4 }} width={20} height={20}>
        <polygon points="10,2 1.5,16 18.5,16" fill="none" stroke={BLUE} strokeWidth={2.6} />
      </svg>
      <div style={{ ...textStyle(), left: p.leg[1], top: p.leg[2], transform: "translate(0, -50%)" }}>
        {legendNames[idx]}
      </div>

      <Centered x={p.yl[0]} y={p.yl[1]} rotate>{yTitle}</Centered>
      <Centered x={p.xl[0]} y={p.xl[1]}>{xTitle}</Centered>
      <Centered x={p.cp[0]} y={p.cp[1]}>{captions[idx]}</Centered>
    </>
  )
}

export default function App() {
  // the visible window can come out shorter than the page asked for; squeeze the figure vertically to fit it
  const vh = typeof window !== "undefined" ? window.innerHeight : PAGE_H
  const sy = Math.min(1, vh / PAGE_H)
  return (
    <div style={{ position: "fixed", left: 0, top: 0, width: PAGE_W, height: PAGE_H * sy, overflow: "hidden", background: "#fff" }}>
      <div
        style={{
          position: "relative",
          width: PAGE_W,
          height: PAGE_H,
          transform: `scaleY(${sy})`,
          transformOrigin: "0 0",
        }}
      >
        {panels.map((_, i) => (
          <Panel key={i} idx={i} />
        ))}
        <Centered x={1453} y={4544}>{captionExtra}</Centered>
      </div>
    </div>
  )
}
